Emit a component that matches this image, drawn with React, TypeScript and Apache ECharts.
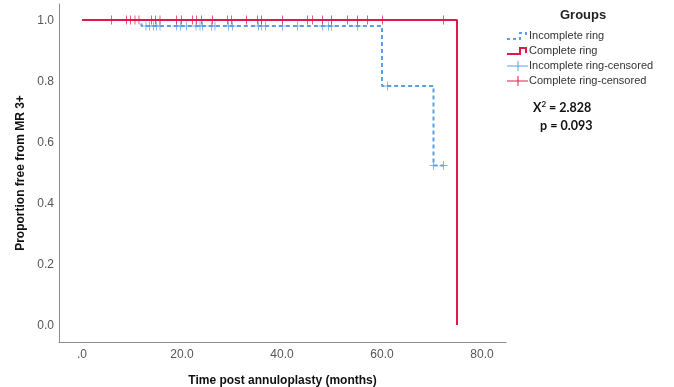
import React, { useEffect, useRef } from "react";
import * as echarts from "echarts";

// Kaplan-Meier step data
const incompleteTimes = [0, 11.9, 60, 70.3, 72.3];
const incompleteSurv = [1, 0.98, 0.784, 0.523, 0.523];
const completeTimes = [0, 75];
const completeSurv = [1, 0];

// censored observation times
const incompleteCensored = [
  12.8, 13.5, 14.3, 14.9, 15.6, 18.9, 19.7, 20.9, 22.8, 23.6, 24.1, 25.9, 26.6,
  29.3, 30.1, 35.3, 35.9, 36.7, 40.1, 43.1, 48.1, 49.3, 49.9, 55.1, 61.1, 70.3, 72.3,
];
const completeCensored = [
  5.9, 8.9, 9.7, 10.6, 11.4, 13.9, 14.7, 15.6, 18.9, 19.9, 22.1, 22.9, 23.9, 26.1,
  29.1, 29.9, 32.9, 35.1, 35.9, 40.1, 45.1, 46.1, 48.1, 49.9, 53.1, 55.1, 57.1,
  60.1, 72.3,
];

const xTicks = [0, 20, 40, 60, 80];
const yTicks = [0, 0.2, 0.4, 0.6, 0.8, 1.0];
const seriesNames = ["Incomplete ring", "Complete ring", "Incomplete ring-censored", "Complete ring-censored"];
const legendTitle = "Groups";
const chiSq = "2.828";
const pValue = "0.093";

const RED = "#e3174c";
const BLUE = "#5c9ee6";
const PLUS = "path://M4,0h1v9h-1z M0,4h9v1h-9z";

function survAt(times: number[], surv: number[], t: number) {
  let v = surv[0];
  for (let i = 0; i < times.length; i++) if (times[i] <= t) v = surv[i];
  return v;
}

export default function App() {
  const ref = useRef<HTMLDivElement>(null);
  useEffect(() => {
    const chart = echarts.init(ref.current!, null, { renderer: "svg" });
    const font = "Liberation Sans, Arial, sans-serif";
    const legX = 507;
    const rows = [36, 51, 66, 81];
    chart.setOption({
      animation: false,
      grid: { left: 59, top: 4, width: 447, height: 338, containLabel: false, outerBoundsMode: "none" },
      xAxis: {
        type: "value",
        min: -4.6,
        max: 84.8,
        name: "Time post annuloplasty (months)",
        nameLocation: "middle",
        nameGap: 32,
        nameTextStyle: { fontFamily: font, fontSize: 12, fontWeight: "bold", color: "#111" },
        axisLine: { show: true, onZero: false, lineStyle: { color: "#8c8c8c", width: 1 } },
        axisTick: { show: false },
        splitLine: { show: false },
        axisLabel: {
          customValues: xTicks,
          formatter: (v: number) => (v === 0 ? ".0" : v.toFixed(1)),
          color: "#555",
          fontFamily: font,
          fontSize: 12,
          margin: 6,
        },
      },
      yAxis: {
        type: "value",
        min: -0.0557,
        max: 1.0525,
        name: "Proportion free from MR 3+",
        nameLocation: "middle",
        nameGap: 23,
        nameRotate: 90,
        nameTextStyle: { fontFamily: font, fontSize: 12, fontWeight: "bold", color: "#111" },
        axisLine: { show: true, onZero: false, lineStyle: { color: "#8c8c8c", width: 1 } },
        axisTick: { show: false },
        splitLine: { show: false },
        axisLabel: {
          customValues: yTicks,
          formatter: (v: number) => v.toFixed(1),
          color: "#555",
          fontFamily: font,
          fontSize: 12,
          margin: 5,
        },
      },
      series: [
        {
          name: seriesNames[0],
          type: "line",
          step: "end",
          symbol: "none",
          data: incompleteTimes.map((t, i) => [t, incompleteSurv[i]]),
          lineStyle: { color: BLUE, width: 2, type: [4, 3] },
          z: 2,
        },
        {
          name: seriesNames[1],
          type: "line",
          step: "end",
          symbol: "none",
          data: completeTimes.map((t, i) => [t, completeSurv[i]]),
          lineStyle: { color: RED, width: 2 },
          z: 3,
        },
        {
          name: seriesNames[2],
          type: "scatter",
          symbol: PLUS,
          symbolSize: [8, 9],
          data: incompleteCensored.map((t) => [t, survAt(incompleteTimes, incompleteSurv, t)]),
          itemStyle: { color: BLUE },
          z: 4,
        },
        {
          name: seriesNames[3],
          type: "scatter",
          symbol: PLUS,
          symbolSize: [8, 9],
          data: completeCensored.map((t) => [t, survAt(completeTimes, completeSurv, t)]),
          itemStyle: { color: RED },
          z: 5,
        },
      ],
      graphic: [
        {
          type: "text",
          left: 560,
          top: 8,
          style: { text: legendTitle, font: `bold 13px ${font}`, fill: "#222" },
        },
        {
          type: "polyline",
          shape: { points: [[legX, rows[0] + 3], [legX + 13, rows[0] + 3], [legX + 13, rows[0] - 3], [legX + 19, rows[0] - 3], [legX + 19, rows[0] + 1]] },
          style: { stroke: BLUE, lineWidth: 2, lineDash: [3, 3], fill: "none" },
        },
        {
          type: "polyline",
          shape: { points: [[legX, rows[1] + 3], [legX + 13, rows[1] + 3], [legX + 13, rows[1] - 3], [legX + 19, rows[1] - 3], [legX + 19, rows[1] + 2]] },
          style: { stroke: RED, lineWidth: 2, fill: "none" },
        },
        { type: "line", shape: { x1: legX, y1: rows[2], x2: legX + 21, y2: rows[2] }, style: { stroke: BLUE, lineWidth: 1 } },
        { type: "line", shape: { x1: legX + 11, y1: rows[2] - 5, x2: legX + 11, y2: rows[2] + 5 }, style: { stroke: BLUE, lineWidth: 1 } },
        { type: "line", shape: { x1: legX, y1: rows[3], x2: legX + 21, y2: rows[3] }, style: { stroke: RED, lineWidth: 1 } },
        { type: "line", shape: { x1: legX + 11, y1: rows[3] - 5, x2: legX + 11, y2: rows[3] + 5 }, style: { stroke: RED, lineWidth: 1 } },
        ...seriesNames.map((n, i) => ({
          type: "text",
          left: 529,
          top: rows[i] - 7,
          style: { text: n, font: `11px ${font}`, fill: "#333" },
        })),
        {
          type: "text",
          left: 533,
          top: 100,
          style: {
            text: `X{s|2} = ${chiSq}`,
            font: "bold 12.5px Lato, sans-serif",
            fill: "#111",
            rich: { s: { font: "bold 8px Lato, sans-serif", fill: "#111", verticalAlign: "top", padding: [0, 0, 6, 0] } },
          },
        },
        {
          type: "text",
          left: 540,
          top: 119,
          style: { text: `p = ${pValue}`, font: "bold 12.5px Lato, sans-serif", fill: "#111" },
        },
      ],
    });
    return () => chart.dispose();
  }, []);
  return <div ref={ref} style={{ position: "fixed", left: 0, top: 0, width: 674, height: 387 }} />;
}
